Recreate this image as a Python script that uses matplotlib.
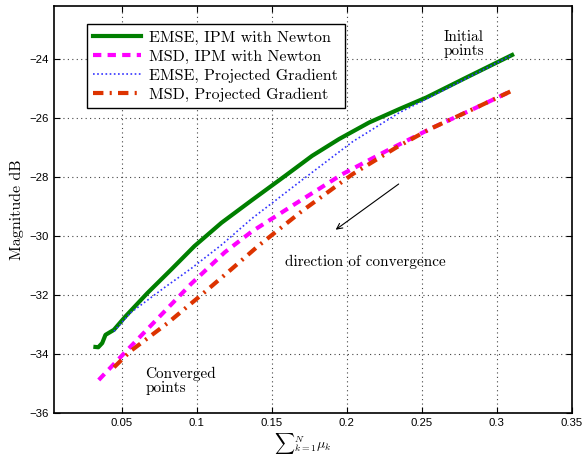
import matplotlib
matplotlib.use('Agg')
import matplotlib.pyplot as plt

# EMSE / MSD curves for both solvers
emse_ipm_x = [0.0326, 0.0345, 0.0371, 0.0393, 0.0449, 0.0527, 0.0673, 0.083, 0.0986, 0.1166, 0.1367,
              0.159, 0.177, 0.195, 0.215, 0.2353, 0.2532, 0.28, 0.3103]
emse_ipm_y = [-33.76, -33.77, -33.63, -33.35, -33.18, -32.72, -31.93, -31.14, -30.34, -29.55, -28.79,
              -27.96, -27.28, -26.71, -26.15, -25.69, -25.30, -24.62, -23.86]

msd_ipm_x = [0.0348, 0.0539, 0.074, 0.0964, 0.1188, 0.1367, 0.166, 0.1972, 0.2263, 0.2555, 0.2845, 0.3103]
msd_ipm_y = [-34.88, -33.86, -32.80, -31.62, -30.55, -29.85, -28.9, -27.9, -27.12, -26.37, -25.69, -25.07]

emse_pg_x = [0.0449, 0.056, 0.0785, 0.0964, 0.1166, 0.137, 0.1524, 0.1703, 0.204, 0.2353, 0.2487, 0.28, 0.3103]
emse_pg_y = [-33.23, -32.6, -31.75, -31.1, -30.3, -29.4, -28.8, -28.1, -26.8, -25.81, -25.47, -24.65, -23.86]

msd_pg_x = [0.045, 0.056, 0.0807, 0.1031, 0.1233, 0.1412, 0.1703, 0.204, 0.233, 0.2555, 0.2845, 0.3103]
msd_pg_y = [-34.45, -33.9, -32.95, -32.0, -31.12, -30.33, -29.15, -27.9, -27.0, -26.37, -25.69, -25.07]

xticks = [0.05, 0.1, 0.15, 0.2, 0.25, 0.3, 0.35]
xticklabels = ['0.05', '0.1', '0.15', '0.2', '0.25', '0.3', '0.35']
yticks = [-36, -34, -32, -30, -28, -26, -24]
yticklabels = ['\u221236', '\u221234', '\u221232', '\u221230', '\u221228', '\u221226', '\u221224']

plt.rcParams['mathtext.fontset'] = 'cm'
serif = 'cmr10'

fig = plt.figure(figsize=(5.82, 4.62), dpi=100)
ax = fig.add_axes([0.0928, 0.106, 0.8895, 0.881])

ax.plot(emse_ipm_x, emse_ipm_y, color='#007f00', lw=3, label='EMSE, IPM with Newton')
ax.plot(msd_ipm_x, msd_ipm_y, color='#ff00ff', lw=3, ls=(0, (2, 1.5)), label='MSD, IPM with Newton')
ax.plot(emse_pg_x, emse_pg_y, color='#3333ff', lw=1.2, ls=(0, (1, 1.5)), label='EMSE, Projected Gradient')
ax.plot(msd_pg_x, msd_pg_y, color='#dd3300', lw=3, ls=(0, (2.5, 1.5, 0.5, 1.5)), label='MSD, Projected Gradient')

ax.set_xlim(0.005, 0.35)
ax.set_ylim(-36, -22.2)
ax.set_xticks(xticks)
ax.set_xticklabels(xticklabels)
ax.set_yticks(yticks)
ax.set_yticklabels(yticklabels)
ax.tick_params(direction='in', top=True, right=True, length=4, labelsize=8.2)
for lab in ax.get_xticklabels() + ax.get_yticklabels():
    lab.set_family('Liberation Sans')
ax.grid(True, ls=(0, (1, 3)), color='#444444', lw=0.8)
for s in ax.spines.values():
    s.set_linewidth(1.2)

ax.set_ylabel('Magnitude dB', family=serif, fontsize=11.5)
ax.set_xlabel(r'${\sum}_{k=1}^{N}\mu_k$', fontsize=10, labelpad=2)
ax.xaxis.label.set_x(0.48)

ax.annotate('', xy=(0.1912, -29.84), xytext=(0.2362, -28.18),
            arrowprops=dict(arrowstyle='->', color='black', lw=0.8))
ax.text(0.159, -30.86, 'direction of convergence', family=serif, fontsize=11, va='center')
ax.text(0.278, -23.48, 'Initial\npoints', family=serif, fontsize=11, ha='center', va='center',
        multialignment='center', linespacing=1.0)
ax.text(0.066, -34.91, 'Converged\npoints', family=serif, fontsize=11, ha='left', va='center', linespacing=1.0)

leg = ax.legend(loc='upper left', bbox_to_anchor=(0.0637, 0.956), borderaxespad=0,
                prop={'family': serif, 'size': 11.5},
                fancybox=False, edgecolor='black', framealpha=1, handlelength=3.0,
                borderpad=0.4, labelspacing=0.3, handletextpad=0.5)
leg.get_frame().set_linewidth(1.0)

fig.savefig('out.png', dpi=100)
